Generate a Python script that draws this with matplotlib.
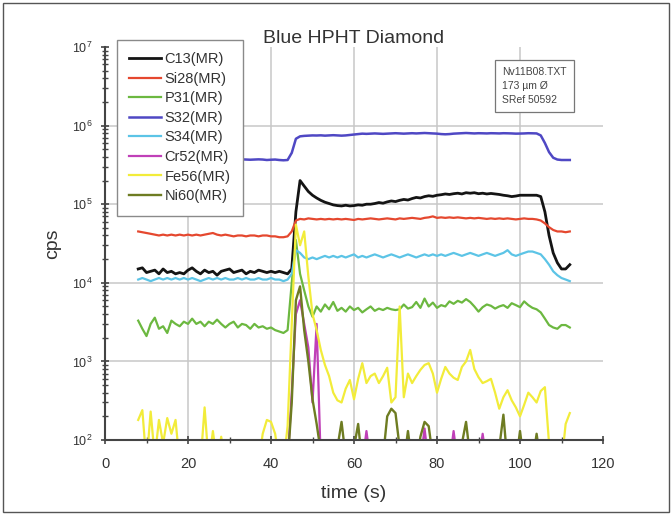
import numpy as np
import matplotlib
matplotlib.use("Agg")
import matplotlib.pyplot as plt
from matplotlib.patches import Rectangle
from matplotlib.ticker import LogLocator, MultipleLocator

plt.rcParams['font.family'] = ['Liberation Sans', 'DejaVu Sans']

# time axis of the run, one reading per second (s)
t = np.arange(8, 113)

# counts per second (50 = below the 10^2 floor)
c13 = [15000, 15500, 13500, 14000, 14500, 13000, 15000, 13500, 14000, 13000,
       13500, 13000, 14500, 15500, 14000, 13000, 14500, 13500, 14000, 12500,
       14000, 14500, 15000, 13500, 14000, 14500, 13000, 14000, 13500, 14500,
       14000, 13500, 14000, 13500, 14000, 13500, 13000, 15000, 80000, 200000,
       170000, 145000, 130000, 120000, 112000, 106000, 102000, 98000, 96000, 95000,
       97000, 95000, 96000, 98000, 97000, 100000, 100000, 102000, 105000, 103000,
       107000, 110000, 108000, 112000, 115000, 113000, 118000, 122000, 120000, 125000,
       128000, 126000, 130000, 132000, 135000, 133000, 136000, 138000, 135000, 140000,
       138000, 140000, 136000, 138000, 135000, 137000, 135000, 133000, 130000, 128000,
       125000, 127000, 130000, 130000, 130000, 130000, 130000, 125000, 80000, 40000,
       24000, 18000, 15000, 15000, 17000]

si28 = [45000, 44000, 43000, 42000, 41000, 40000, 41000, 40000, 41000, 40000,
        41000, 40000, 41000, 40000, 41000, 40000, 41000, 42000, 43000, 41000,
        40000, 41000, 40000, 39000, 40000, 40000, 39000, 40000, 40000, 39000,
        40000, 40000, 39000, 39000, 38000, 38000, 39000, 45000, 62000, 65000,
        64000, 66000, 65000, 64000, 65000, 64000, 65000, 64000, 65000, 64000,
        65000, 64000, 63000, 65000, 64000, 65000, 66000, 65000, 64000, 65000,
        66000, 65000, 64000, 66000, 65000, 66000, 67000, 66000, 65000, 67000,
        68000, 70000, 67000, 68000, 67000, 68000, 67000, 68000, 67000, 66000,
        67000, 66000, 67000, 66000, 65000, 66000, 65000, 66000, 65000, 66000,
        65000, 64000, 65000, 66000, 65000, 65000, 64000, 62000, 57000, 51000,
        47000, 45000, 45000, 44000, 45000]

p31 = [3300, 2600, 2100, 3000, 3600, 2600, 2800, 2300, 3300, 3000,
       2800, 3200, 3000, 3500, 3000, 3200, 2800, 3200, 3000, 3400,
       3000, 2700, 3000, 3200, 2700, 3000, 2900, 2600, 3000, 2700,
       2800, 2600, 2700, 2500, 2400, 2300, 2500, 10000, 35000, 13000,
       8000, 5000, 3700, 5000, 4300, 5300, 4600, 5700, 4400, 4800,
       4300, 5000, 4500, 4800, 4200, 4600, 5000, 4400, 4700, 4500,
       4800, 4600, 4500, 4600, 5300, 4700, 4900, 5700, 4800, 6300,
       5000, 5600, 4800, 5200, 5000, 5800, 5400, 5900, 5600, 6200,
       5700, 5000, 4300, 4900, 5300, 5100, 4700, 5000, 5200, 4800,
       5500, 5200, 4900, 5800, 5200, 4800, 4600, 4200, 3500, 2900,
       2700, 2600, 2900, 2900, 2700]

s32 = [375000, 370000, 372000, 368000, 370000, 372000, 370000, 368000, 370000, 372000,
       370000, 368000, 370000, 372000, 370000, 368000, 370000, 372000, 370000, 368000,
       370000, 372000, 370000, 368000, 370000, 372000, 370000, 368000, 370000, 372000,
       370000, 365000, 368000, 370000, 365000, 362000, 365000, 450000, 680000, 730000,
       740000, 745000, 750000, 748000, 752000, 745000, 750000, 755000, 750000, 745000,
       750000, 760000, 770000, 780000, 790000, 785000, 790000, 795000, 790000, 785000,
       790000, 795000, 800000, 795000, 790000, 795000, 800000, 795000, 800000, 805000,
       800000, 795000, 790000, 780000, 775000, 780000, 790000, 795000, 800000, 805000,
       800000, 795000, 800000, 798000, 795000, 800000, 798000, 795000, 800000, 798000,
       795000, 790000, 792000, 795000, 800000, 798000, 795000, 750000, 600000, 460000,
       390000, 370000, 365000, 365000, 365000]

s34 = [11000, 11500, 11000, 10500, 11000, 11500, 11000, 11500, 11000, 11500,
       11000, 11500, 11000, 11500, 11000, 10500, 11000, 11500, 11000, 11500,
       11000, 11500, 11000, 11000, 11500, 11000, 11500, 11000, 11000, 11500,
       11000, 11000, 11500, 11000, 11000, 10500, 11000, 13000, 26000, 24000,
       21000, 20000, 21000, 20000, 21000, 22000, 21000, 22000, 21000, 22000,
       21000, 22000, 23000, 21000, 22000, 21000, 22000, 23000, 22000, 21000,
       22000, 23000, 22000, 21000, 22000, 23000, 22000, 21000, 22000, 23000,
       22000, 23000, 22000, 23000, 22000, 23000, 24000, 23000, 22000, 23000,
       24000, 23000, 22000, 23000, 24000, 23000, 22000, 23000, 24000, 26000,
       23000, 22000, 23000, 24000, 25000, 25000, 24000, 23000, 20000, 17000,
       14000, 12500, 11500, 11000, 10500]

cr52 = [50, 50, 50, 50, 50, 50, 50, 50, 50, 50,
        50, 50, 50, 50, 50, 50, 50, 50, 50, 50,
        50, 50, 50, 50, 50, 50, 50, 50, 50, 50,
        50, 50, 50, 50, 50, 50, 50, 400, 4000, 6000,
        3000, 1500, 300, 3000, 50, 50, 50, 50, 50, 50,
        50, 50, 50, 50, 50, 130, 50, 50, 50, 50,
        50, 50, 50, 50, 50, 50, 50, 50, 50, 140,
        50, 50, 50, 50, 50, 50, 130, 50, 50, 50,
        50, 50, 50, 120, 50, 50, 50, 50, 50, 50,
        50, 50, 50, 50, 50, 50, 50, 50, 50, 50,
        50, 50, 50, 50, 50]

fe56 = [180, 240, 50, 230, 60, 180, 90, 190, 120, 180,
        50, 50, 50, 50, 50, 50, 260, 50, 130, 50,
        110, 50, 50, 50, 50, 50, 50, 50, 50, 50,
        120, 180, 170, 120, 50, 50, 150, 3000, 55000, 30000,
        45000, 12000, 4000, 2500, 1400, 900, 650, 400, 320, 300,
        450, 580, 330, 600, 950, 530, 650, 700, 530, 650,
        830, 300, 350, 5000, 350, 700, 530, 650, 780, 900,
        950, 700, 400, 600, 850, 700, 620, 580, 850, 1000,
        1400, 800, 630, 530, 560, 600, 400, 250, 350, 430,
        320, 260, 200, 280, 400, 350, 300, 420, 470, 90,
        50, 50, 50, 160, 220]

ni60 = [50, 50, 50, 50, 50, 50, 50, 50, 50, 50,
        50, 50, 50, 50, 50, 50, 50, 50, 50, 50,
        50, 50, 50, 50, 50, 50, 50, 50, 50, 50,
        50, 50, 50, 50, 50, 50, 50, 300, 6000, 9000,
        2500, 1000, 330, 160, 70, 50, 50, 50, 80, 170,
        60, 50, 80, 160, 50, 50, 50, 50, 50, 60,
        200, 250, 220, 80, 50, 130, 50, 50, 110, 170,
        150, 60, 50, 50, 50, 50, 50, 50, 90, 170,
        60, 50, 50, 50, 50, 50, 50, 80, 210, 50,
        50, 50, 130, 50, 50, 50, 120, 50, 50, 50,
        50, 50, 50, 50, 50]

series = [
    ("C13(MR)", c13, "#141414", 2.0),
    ("Si28(MR)", si28, "#e5482f", 1.6),
    ("P31(MR)", p31, "#6cb840", 1.6),
    ("S32(MR)", s32, "#4f48c4", 1.8),
    ("S34(MR)", s34, "#5cc4e6", 1.6),
    ("Cr52(MR)", cr52, "#c040b8", 1.6),
    ("Fe56(MR)", fe56, "#f2ec3a", 1.6),
    ("Ni60(MR)", ni60, "#6e7c22", 1.7),
]

fig = plt.figure(figsize=(6.72, 5.15), dpi=100)
ax = fig.add_axes([105/672, 1 - 440/515, 498/672, 393/515])

grid_c = "#c8c8c8"
for xv in [20, 40, 60, 80, 100]:
    ax.axvline(xv, color=grid_c, lw=1.1, zorder=0)
for yv in [1e3, 1e4, 1e5, 1e6]:
    ax.axhline(yv, color=grid_c, lw=1.1, zorder=0)

for name, vals, col, lw in series:
    ax.plot(t, vals, color=col, lw=lw, label=name)

ax.set_yscale("log")
ax.set_xlim(0, 120)
ax.set_ylim(1e2, 1e7)
ax.xaxis.set_major_locator(MultipleLocator(20))
ax.xaxis.set_minor_locator(MultipleLocator(10))
ax.yaxis.set_major_locator(LogLocator(base=10, numticks=10))
ax.yaxis.set_minor_locator(LogLocator(base=10, subs=np.arange(2, 10), numticks=20))

for s in ["top", "right"]:
    ax.spines[s].set_visible(False)
for s in ["left", "bottom"]:
    ax.spines[s].set_color("#444444")
    ax.spines[s].set_linewidth(1.5)

ax.tick_params(which="major", direction="inout", length=6, width=1.2,
               color="#444444", labelcolor="#333333")
ax.tick_params(which="minor", direction="inout", length=4, width=1.0, color="#444444")
ax.tick_params(axis="x", pad=9, labelsize=10.5)
ax.tick_params(axis="y", pad=6, labelsize=9)

ax.set_xlabel("time (s)", fontsize=14, color="#333333", labelpad=10)
ax.set_ylabel("cps", fontsize=14, color="#333333", labelpad=8)
ax.set_title("Blue HPHT Diamond", fontsize=14, color="#333333", pad=3)

leg = ax.legend(loc="upper left", bbox_to_anchor=(0.024, 1.018), borderaxespad=0,
                fontsize=10.5, frameon=True, fancybox=False, handlelength=2.2,
                handletextpad=0.2, labelspacing=0.38, borderpad=0.85)
leg.get_frame().set_edgecolor("#8a8a8a")
leg.get_frame().set_linewidth(1.0)
leg.get_frame().set_alpha(1)
for txt in leg.get_texts():
    txt.set_color("#333333")

ax.text(0.797, 0.948, "Nv11B08.TXT\n173 µm Ø\nSRef 50592", transform=ax.transAxes,
        fontsize=7.5, color="#444444", va="top", ha="left", linespacing=1.45,
        bbox=dict(boxstyle="square,pad=0.7", fc="white", ec="#777777", lw=0.9))

fig.patches.append(Rectangle((3/672, 3/515), 666/672, 509/515, transform=fig.transFigure,
                             fill=False, ec="#555555", lw=1.0))

fig.savefig("out.png", dpi=100)
